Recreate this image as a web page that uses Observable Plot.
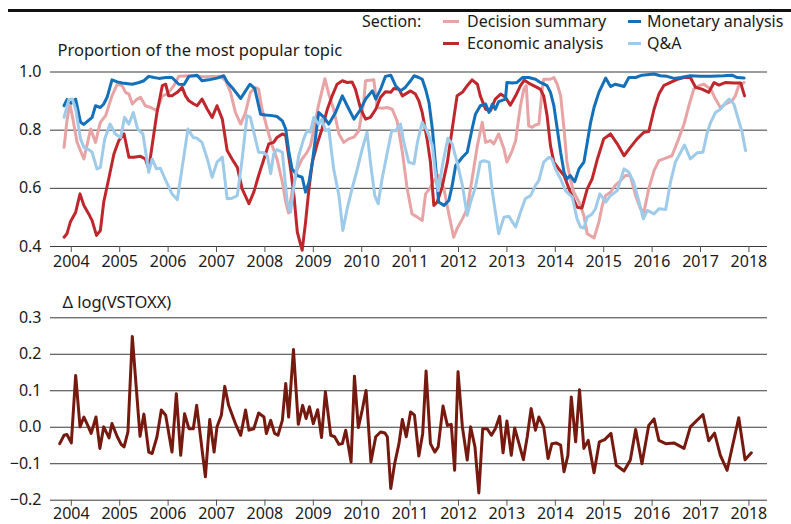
<!DOCTYPE html>
<html><head><meta charset="utf-8">
<script src="https://cdn.jsdelivr.net/npm/d3@7"></script>
<script src="https://cdn.jsdelivr.net/npm/@observablehq/plot@0.6"></script>
<style>
body{margin:0;background:#fff;font-family:"Noto Sans",sans-serif;color:#1a1a1a}
#wrap{position:relative;width:791px;height:524px;overflow:hidden}
.rule{position:absolute;left:8px;top:9px;width:783px;height:3px;background:#111}
.t{position:absolute;font-size:16px;line-height:20px;height:20px;white-space:nowrap}
.sw{position:absolute;height:3px}
#p1{position:absolute;left:0;top:36px}
#p2{position:absolute;left:0;top:280px}
svg{overflow:visible}
</style></head>
<body><div id="wrap">
<div class="rule"></div>
<div class="t" style="left:362px;top:11px">Section:</div>
<div id="legend"></div>
<div id="p1"></div>
<div id="p2"></div>
</div>
<script>
const years = [2004,2005,2006,2007,2008,2009,2010,2011,2012,2013,2014,2015,2016,2017,2018];
const topTicks = [0.4,0.6,0.8,1.0];
const bottomTicks = [-0.2,-0.1,0.0,0.1,0.2,0.3];
const seriesNames = ["Decision summary","Economic analysis","Monetary analysis","Q&A"];
const seriesColors = ["#e8a3a5","#c0272d","#1370b9","#9dcbe9"];

const decisionSummary = [[2003.85,0.741],[2003.91,0.832],[2003.97,0.890],[2004.02,0.850],[2004.12,0.758],[2004.26,0.701],[2004.40,0.804],[2004.50,0.758],[2004.60,0.827],[2004.71,0.850],[2004.84,0.918],[2004.95,0.958],[2005.05,0.953],[2005.12,0.930],[2005.19,0.924],[2005.26,0.890],[2005.36,0.907],[2005.43,0.913],[2005.53,0.884],[2005.64,0.878],[2005.77,0.867],[2005.88,0.918],[2005.98,0.924],[2006.12,0.953],[2006.22,0.985],[2006.46,0.987],[2006.74,0.984],[2007.08,0.985],[2007.19,0.970],[2007.29,0.930],[2007.39,0.861],[2007.50,0.821],[2007.60,0.861],[2007.70,0.930],[2007.81,0.947],[2007.87,0.941],[2007.94,0.872],[2008.05,0.804],[2008.15,0.747],[2008.25,0.701],[2008.36,0.621],[2008.43,0.553],[2008.49,0.515],[2008.56,0.587],[2008.67,0.667],[2008.77,0.701],[2008.87,0.724],[2008.94,0.747],[2009.01,0.800],[2009.10,0.880],[2009.24,0.977],[2009.32,0.924],[2009.42,0.872],[2009.53,0.787],[2009.63,0.758],[2009.73,0.770],[2009.84,0.776],[2009.94,0.798],[2010.04,0.895],[2010.08,0.970],[2010.25,0.973],[2010.32,0.878],[2010.42,0.875],[2010.53,0.878],[2010.63,0.872],[2010.73,0.832],[2010.84,0.724],[2010.94,0.598],[2011.04,0.512],[2011.15,0.501],[2011.25,0.489],[2011.32,0.581],[2011.40,0.598],[2011.49,0.627],[2011.59,0.644],[2011.70,0.598],[2011.80,0.512],[2011.90,0.432],[2011.97,0.461],[2012.08,0.495],[2012.18,0.530],[2012.28,0.632],[2012.39,0.747],[2012.49,0.827],[2012.56,0.758],[2012.66,0.764],[2012.73,0.753],[2012.83,0.787],[2012.94,0.735],[2013.00,0.690],[2013.11,0.730],[2013.18,0.764],[2013.28,0.884],[2013.35,0.941],[2013.40,0.953],[2013.45,0.815],[2013.52,0.810],[2013.59,0.818],[2013.66,0.821],[2013.73,0.941],[2013.76,0.975],[2013.90,0.975],[2013.97,0.981],[2014.04,0.958],[2014.11,0.918],[2014.18,0.804],[2014.24,0.690],[2014.31,0.632],[2014.38,0.587],[2014.49,0.553],[2014.59,0.507],[2014.66,0.444],[2014.80,0.429],[2014.90,0.484],[2014.97,0.541],[2015.04,0.575],[2015.14,0.587],[2015.24,0.610],[2015.35,0.627],[2015.45,0.644],[2015.55,0.644],[2015.66,0.575],[2015.76,0.530],[2015.83,0.518],[2015.93,0.598],[2016.04,0.661],[2016.14,0.695],[2016.24,0.701],[2016.41,0.712],[2016.52,0.758],[2016.66,0.821],[2016.76,0.884],[2016.86,0.941],[2016.97,0.953],[2017.07,0.958],[2017.21,0.941],[2017.31,0.907],[2017.41,0.878],[2017.52,0.890],[2017.65,0.901],[2017.72,0.918],[2017.79,0.953],[2017.90,0.964]];

const economicAnalysis = [[2003.85,0.432],[2003.91,0.444],[2003.98,0.484],[2004.09,0.518],[2004.18,0.581],[2004.26,0.541],[2004.36,0.512],[2004.43,0.489],[2004.52,0.438],[2004.60,0.455],[2004.67,0.553],[2004.78,0.638],[2004.88,0.718],[2004.98,0.764],[2005.09,0.787],[2005.19,0.707],[2005.29,0.707],[2005.43,0.710],[2005.53,0.701],[2005.60,0.667],[2005.67,0.747],[2005.77,0.861],[2005.88,0.953],[2005.95,0.958],[2006.01,0.918],[2006.08,0.918],[2006.19,0.930],[2006.29,0.947],[2006.36,0.918],[2006.43,0.901],[2006.53,0.890],[2006.60,0.884],[2006.70,0.907],[2006.81,0.872],[2006.91,0.844],[2007.01,0.884],[2007.12,0.838],[2007.22,0.730],[2007.32,0.701],[2007.43,0.672],[2007.53,0.598],[2007.67,0.547],[2007.77,0.587],[2007.87,0.644],[2007.98,0.701],[2008.08,0.753],[2008.18,0.758],[2008.25,0.775],[2008.36,0.787],[2008.43,0.781],[2008.53,0.667],[2008.60,0.575],[2008.67,0.449],[2008.77,0.387],[2008.84,0.484],[2008.91,0.598],[2008.98,0.690],[2009.08,0.753],[2009.18,0.804],[2009.29,0.872],[2009.39,0.918],[2009.49,0.958],[2009.60,0.970],[2009.70,0.964],[2009.80,0.966],[2009.87,0.941],[2009.98,0.872],[2010.08,0.838],[2010.18,0.844],[2010.29,0.872],[2010.39,0.913],[2010.49,0.932],[2010.60,0.930],[2010.66,0.943],[2010.77,0.941],[2010.84,0.918],[2010.90,0.924],[2011.01,0.935],[2011.11,0.924],[2011.18,0.901],[2011.25,0.861],[2011.35,0.770],[2011.42,0.690],[2011.49,0.541],[2011.56,0.553],[2011.66,0.604],[2011.77,0.690],[2011.87,0.804],[2011.97,0.918],[2012.08,0.930],[2012.18,0.953],[2012.28,0.973],[2012.39,0.958],[2012.45,0.918],[2012.56,0.872],[2012.66,0.867],[2012.76,0.907],[2012.87,0.924],[2012.97,0.913],[2013.07,0.886],[2013.18,0.918],[2013.28,0.953],[2013.36,0.972],[2013.45,0.962],[2013.59,0.950],[2013.69,0.941],[2013.76,0.918],[2013.83,0.850],[2013.90,0.747],[2013.97,0.690],[2014.07,0.667],[2014.18,0.644],[2014.31,0.587],[2014.45,0.535],[2014.55,0.532],[2014.66,0.598],[2014.76,0.632],[2014.87,0.701],[2015.00,0.770],[2015.14,0.787],[2015.28,0.753],[2015.42,0.712],[2015.55,0.741],[2015.69,0.770],[2015.83,0.793],[2015.93,0.795],[2016.04,0.872],[2016.14,0.924],[2016.24,0.953],[2016.38,0.964],[2016.52,0.975],[2016.66,0.981],[2016.79,0.981],[2016.90,0.947],[2017.03,0.941],[2017.17,0.930],[2017.28,0.964],[2017.38,0.955],[2017.52,0.964],[2017.69,0.962],[2017.83,0.962],[2017.91,0.918]];

const monetaryAnalysis = [[2003.85,0.884],[2003.91,0.905],[2004.00,0.893],[2004.09,0.907],[2004.19,0.827],[2004.26,0.820],[2004.43,0.844],[2004.50,0.884],[2004.60,0.878],[2004.67,0.890],[2004.74,0.913],[2004.84,0.973],[2004.95,0.966],[2005.05,0.962],[2005.26,0.958],[2005.40,0.964],[2005.50,0.970],[2005.60,0.985],[2005.71,0.981],[2005.81,0.978],[2005.95,0.981],[2006.08,0.981],[2006.22,0.958],[2006.33,0.957],[2006.43,0.985],[2006.60,0.989],[2006.70,0.970],[2006.84,0.973],[2007.01,0.979],[2007.15,0.987],[2007.22,0.966],[2007.32,0.947],[2007.50,0.909],[2007.60,0.935],[2007.69,0.958],[2007.79,0.943],[2007.91,0.855],[2008.01,0.852],[2008.15,0.850],[2008.25,0.847],[2008.36,0.832],[2008.43,0.804],[2008.49,0.730],[2008.56,0.667],[2008.67,0.644],[2008.77,0.638],[2008.84,0.587],[2008.91,0.621],[2008.98,0.690],[2009.05,0.781],[2009.11,0.861],[2009.22,0.844],[2009.32,0.821],[2009.46,0.861],[2009.60,0.918],[2009.70,0.884],[2009.84,0.838],[2009.98,0.872],[2010.08,0.907],[2010.22,0.935],[2010.29,0.907],[2010.39,0.941],[2010.49,0.985],[2010.60,0.989],[2010.70,0.953],[2010.80,0.935],[2010.90,0.947],[2011.01,0.970],[2011.08,0.987],[2011.18,0.981],[2011.25,0.975],[2011.32,0.941],[2011.39,0.895],[2011.46,0.804],[2011.52,0.690],[2011.59,0.553],[2011.70,0.541],[2011.80,0.558],[2011.87,0.610],[2011.94,0.678],[2012.08,0.707],[2012.18,0.724],[2012.28,0.804],[2012.35,0.855],[2012.45,0.884],[2012.56,0.890],[2012.63,0.861],[2012.70,0.890],[2012.76,0.872],[2012.83,0.898],[2012.97,0.907],[2013.00,0.964],[2013.11,0.962],[2013.21,0.964],[2013.32,0.981],[2013.45,0.981],[2013.59,0.975],[2013.69,0.964],[2013.83,0.953],[2013.90,0.930],[2013.97,0.884],[2014.04,0.804],[2014.11,0.724],[2014.18,0.655],[2014.24,0.632],[2014.31,0.644],[2014.40,0.623],[2014.49,0.667],[2014.59,0.690],[2014.66,0.758],[2014.73,0.827],[2014.80,0.878],[2014.90,0.930],[2015.04,0.979],[2015.14,0.950],[2015.24,0.958],[2015.42,0.950],[2015.52,0.981],[2015.66,0.981],[2015.79,0.989],[2016.04,0.993],[2016.17,0.987],[2016.31,0.985],[2016.45,0.978],[2016.59,0.981],[2016.79,0.987],[2017.00,0.985],[2017.21,0.985],[2017.48,0.987],[2017.65,0.989],[2017.76,0.981],[2017.90,0.979]];

const qAndA = [[2003.85,0.844],[2003.95,0.905],[2004.02,0.907],[2004.09,0.872],[2004.19,0.770],[2004.26,0.741],[2004.36,0.733],[2004.43,0.724],[2004.53,0.667],[2004.60,0.672],[2004.69,0.770],[2004.80,0.821],[2004.91,0.787],[2005.02,0.775],[2005.10,0.844],[2005.19,0.821],[2005.28,0.861],[2005.37,0.804],[2005.48,0.787],[2005.60,0.655],[2005.67,0.701],[2005.76,0.667],[2005.84,0.669],[2005.95,0.627],[2006.08,0.581],[2006.19,0.561],[2006.41,0.804],[2006.52,0.775],[2006.60,0.772],[2006.70,0.758],[2006.81,0.701],[2006.91,0.638],[2007.01,0.690],[2007.12,0.707],[2007.22,0.564],[2007.32,0.566],[2007.43,0.575],[2007.53,0.701],[2007.63,0.850],[2007.70,0.844],[2007.77,0.793],[2007.87,0.724],[2007.98,0.722],[2008.05,0.712],[2008.12,0.650],[2008.18,0.718],[2008.25,0.733],[2008.36,0.724],[2008.46,0.553],[2008.53,0.518],[2008.60,0.610],[2008.70,0.713],[2008.80,0.770],[2008.87,0.798],[2008.94,0.793],[2009.01,0.844],[2009.11,0.821],[2009.18,0.838],[2009.25,0.798],[2009.32,0.804],[2009.42,0.667],[2009.53,0.575],[2009.61,0.455],[2009.70,0.530],[2009.80,0.598],[2009.91,0.667],[2010.01,0.735],[2010.11,0.793],[2010.18,0.690],[2010.27,0.575],[2010.34,0.547],[2010.42,0.632],[2010.53,0.724],[2010.62,0.798],[2010.70,0.798],[2010.80,0.821],[2010.87,0.758],[2010.97,0.690],[2011.08,0.684],[2011.15,0.758],[2011.25,0.827],[2011.35,0.798],[2011.46,0.747],[2011.52,0.655],[2011.58,0.592],[2011.68,0.690],[2011.78,0.772],[2011.87,0.753],[2011.97,0.690],[2012.08,0.610],[2012.18,0.507],[2012.25,0.553],[2012.35,0.604],[2012.45,0.690],[2012.52,0.695],[2012.63,0.690],[2012.70,0.587],[2012.83,0.444],[2012.94,0.501],[2013.04,0.504],[2013.18,0.467],[2013.28,0.518],[2013.38,0.564],[2013.49,0.575],[2013.59,0.610],[2013.66,0.627],[2013.76,0.690],[2013.87,0.707],[2013.93,0.701],[2014.00,0.667],[2014.11,0.632],[2014.21,0.592],[2014.35,0.570],[2014.45,0.495],[2014.52,0.467],[2014.59,0.463],[2014.66,0.501],[2014.76,0.512],[2014.83,0.530],[2014.92,0.581],[2015.04,0.553],[2015.14,0.575],[2015.28,0.592],[2015.42,0.667],[2015.52,0.655],[2015.62,0.621],[2015.73,0.553],[2015.82,0.495],[2015.90,0.524],[2016.04,0.512],[2016.14,0.530],[2016.28,0.527],[2016.38,0.621],[2016.48,0.690],[2016.59,0.724],[2016.67,0.749],[2016.79,0.701],[2016.93,0.722],[2017.05,0.724],[2017.14,0.793],[2017.21,0.827],[2017.31,0.861],[2017.41,0.872],[2017.52,0.895],[2017.59,0.907],[2017.69,0.890],[2017.79,0.832],[2017.86,0.793],[2017.93,0.730]];

const vstoxx = [[2003.76,-0.045],[2003.85,-0.022],[2003.91,-0.020],[2004.00,-0.043],[2004.09,0.142],[2004.18,0.001],[2004.26,0.028],[2004.34,0.005],[2004.41,-0.017],[2004.51,0.028],[2004.59,-0.058],[2004.67,0.001],[2004.78,-0.029],[2004.84,0.010],[2004.95,-0.026],[2005.03,-0.047],[2005.09,-0.054],[2005.17,-0.013],[2005.26,0.249],[2005.42,-0.025],[2005.50,0.036],[2005.60,-0.068],[2005.67,-0.072],[2005.77,-0.026],[2005.86,0.047],[2005.95,0.033],[2006.08,-0.068],[2006.17,0.092],[2006.26,-0.077],[2006.34,0.037],[2006.43,-0.004],[2006.52,-0.004],[2006.59,0.060],[2006.77,-0.136],[2006.86,0.021],[2006.95,-0.068],[2007.01,0.001],[2007.10,0.033],[2007.17,0.112],[2007.25,0.060],[2007.39,0.010],[2007.50,-0.022],[2007.60,0.047],[2007.67,-0.008],[2007.77,-0.004],[2007.87,0.039],[2007.98,0.028],[2008.03,-0.017],[2008.12,0.019],[2008.20,-0.017],[2008.27,-0.022],[2008.36,0.019],[2008.43,0.120],[2008.49,0.028],[2008.59,0.213],[2008.69,0.008],[2008.78,0.060],[2008.85,0.024],[2008.92,0.056],[2009.00,0.010],[2009.09,0.048],[2009.17,-0.028],[2009.25,0.097],[2009.36,-0.022],[2009.44,-0.026],[2009.53,-0.047],[2009.60,-0.045],[2009.67,-0.008],[2009.78,-0.095],[2009.85,0.140],[2009.93,-0.001],[2010.01,0.047],[2010.09,0.101],[2010.19,-0.095],[2010.29,-0.026],[2010.39,-0.013],[2010.48,-0.016],[2010.53,-0.026],[2010.60,-0.168],[2010.68,-0.100],[2010.77,-0.045],[2010.84,0.021],[2010.92,-0.026],[2011.01,0.042],[2011.09,0.033],[2011.18,-0.079],[2011.26,-0.017],[2011.33,0.154],[2011.42,-0.045],[2011.51,-0.068],[2011.58,-0.054],[2011.68,0.058],[2011.77,0.005],[2011.85,0.008],[2011.92,-0.118],[2011.99,0.152],[2012.08,0.001],[2012.18,-0.090],[2012.25,0.001],[2012.34,-0.054],[2012.42,-0.180],[2012.50,-0.004],[2012.59,-0.004],[2012.68,-0.022],[2012.76,-0.004],[2012.85,0.030],[2012.92,-0.070],[2013.00,0.017],[2013.09,-0.077],[2013.16,-0.002],[2013.25,-0.045],[2013.34,-0.089],[2013.42,-0.026],[2013.50,0.051],[2013.59,-0.008],[2013.66,0.028],[2013.76,0.001],[2013.85,-0.086],[2013.93,-0.045],[2014.02,-0.043],[2014.11,-0.049],[2014.18,-0.122],[2014.26,-0.077],[2014.33,0.083],[2014.42,-0.040],[2014.50,0.103],[2014.59,-0.058],[2014.68,-0.036],[2014.80,-0.125],[2014.91,-0.040],[2015.02,-0.034],[2015.15,-0.017],[2015.26,-0.104],[2015.42,-0.120],[2015.55,-0.090],[2015.66,-0.006],[2015.79,-0.100],[2015.93,0.005],[2016.04,0.023],[2016.14,-0.036],[2016.28,-0.045],[2016.45,-0.043],[2016.66,-0.058],[2016.79,0.001],[2017.05,0.035],[2017.17,-0.037],[2017.29,-0.016],[2017.41,-0.077],[2017.55,-0.118],[2017.79,0.026],[2017.92,-0.089],[2018.05,-0.070]];

const xDomain = [2003.57, 2018.384];
const font = "'Noto Sans', sans-serif";

// legend
const legendPos = [[443,467,21],[443,467,43],[628,647,21],[628,647,43]];
const legend = document.getElementById("legend");
seriesNames.forEach((name, i) => {
  const [sx, tx, cy] = legendPos[i];
  const sw = document.createElement("div");
  sw.className = "sw";
  sw.style.cssText = `left:${sx}px;top:${cy-1.5}px;width:${i<2?16:13}px;background:${seriesColors[i]}`;
  legend.appendChild(sw);
  const t = document.createElement("div");
  t.className = "t";
  t.style.cssText = `left:${tx}px;top:${cy-10}px`;
  t.textContent = name;
  legend.appendChild(t);
});

const toRows = arr => arr.map(([x, y]) => ({x, y}));
const topSeries = [decisionSummary, economicAnalysis, monetaryAnalysis, qAndA];

const p1 = Plot.plot({
  width: 791, height: 239,
  marginLeft: 50, marginRight: 24, marginTop: 35.5, marginBottom: 29,
  style: {fontFamily: font, fontSize: "16px", color: "#1a1a1a", background: "transparent", overflow: "visible"},
  x: {domain: xDomain},
  y: {domain: [0.4, 1.0]},
  marks: [
    Plot.ruleY(topTicks, {stroke: "#3a3a3a", strokeWidth: 1}),
    ...topSeries.map((s, i) => Plot.line(toRows(s), {x: "x", y: "y", stroke: seriesColors[i], strokeWidth: 3, strokeLinejoin: "round"})),
    Plot.axisX({ticks: years, tickFormat: d => String(d), tickSize: 6, tickPadding: 3, stroke: "#555", label: null, fontSize: 16}),
    Plot.axisY({ticks: topTicks, tickFormat: d3.format(".1f"), tickSize: 0, tickPadding: 9, label: null, fontSize: 16}),
    Plot.text(["Proportion of the most popular topic"], {frameAnchor: "top-left", dx: 7, dy: -21.5, textAnchor: "start", lineAnchor: "middle", fontSize: 16.5, fill: "#1a1a1a"})
  ]
});
document.getElementById("p1").appendChild(p1);

const p2 = Plot.plot({
  width: 791, height: 244,
  marginLeft: 50, marginRight: 24, marginTop: 37.3, marginBottom: 24.3,
  style: {fontFamily: font, fontSize: "16px", color: "#1a1a1a", background: "transparent", overflow: "visible"},
  x: {domain: xDomain},
  y: {domain: [-0.2, 0.3]},
  marks: [
    Plot.ruleY(bottomTicks, {stroke: "#3a3a3a", strokeWidth: 1}),
    Plot.line(toRows(vstoxx), {x: "x", y: "y", stroke: "#761a10", strokeWidth: 3, strokeLinejoin: "round"}),
    Plot.axisX({ticks: years, tickFormat: d => String(d), tickSize: 6, tickPadding: 1.5, stroke: "#555", label: null, fontSize: 16}),
    Plot.axisY({ticks: bottomTicks, tickFormat: d3.format(".1f"), tickSize: 0, tickPadding: 9, label: null, fontSize: 16}),
    Plot.text(["Δ log(VSTOXX)"], {frameAnchor: "top-left", dx: 12, dy: -15.3, textAnchor: "start", lineAnchor: "middle", fontSize: 16.5, fill: "#1a1a1a"})
  ]
});
document.getElementById("p2").appendChild(p2);
</script>
</body></html>
